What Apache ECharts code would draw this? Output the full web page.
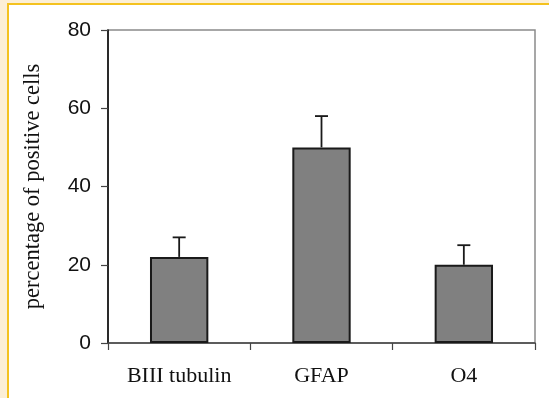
<!DOCTYPE html>
<html>
<head>
<meta charset="utf-8">
<script src="https://cdn.jsdelivr.net/npm/echarts@6/dist/echarts.min.js"></script>
<style>
html,body{margin:0;padding:0;background:#fff;}
#c{width:549px;height:398px;}
</style>
</head>
<body>
<div id="c"></div>
<script>
var categories = ['BIII tubulin', 'GFAP', 'O4'];
var values = [22, 50, 20];
var errors = [5, 8, 5];
var yTicks = [0, 20, 40, 60, 80];

var chart = echarts.init(document.getElementById('c'), null, {renderer: 'canvas'});
var errData = categories.map(function (c, i) { return [i, values[i], errors[i]]; });

chart.setOption({
  animation: false,
  backgroundColor: '#ffffff',
  graphic: [
    {type: 'rect', shape: {x: 0, y: 0, width: 7, height: 398}, style: {fill: '#fcefd5'}, z: 100},
    {type: 'rect', shape: {x: 0, y: 0, width: 549, height: 3}, style: {fill: '#fcefd5'}, z: 100},
    {type: 'rect', shape: {x: 7, y: 3, width: 2, height: 395}, style: {fill: '#f4c21f'}, z: 101},
    {type: 'rect', shape: {x: 7, y: 3, width: 542, height: 2}, style: {fill: '#f4c21f'}, z: 101}
  ],
  grid: {left: 108, top: 30, right: 14, bottom: 55, show: true, borderColor: '#8a8a8a', borderWidth: 1.5, backgroundColor: 'transparent'},
  xAxis: {
    type: 'category',
    data: categories,
    boundaryGap: true,
    axisLine: {lineStyle: {color: '#444', width: 1.5}},
    axisTick: {show: true, length: 7, lineStyle: {color: '#444', width: 1.2}},
    axisLabel: {fontFamily: 'Liberation Serif', fontSize: 22, color: '#111', margin: 22}
  },
  yAxis: {
    type: 'value',
    min: yTicks[0],
    max: yTicks[yTicks.length - 1],
    interval: 20,
    name: 'percentage of positive cells',
    nameLocation: 'middle',
    nameGap: 63,
    nameTextStyle: {fontFamily: 'Liberation Serif', fontSize: 22.5, color: '#111'},
    axisLine: {show: true, lineStyle: {color: '#000', width: 1.5}},
    axisTick: {show: true, length: 7, lineStyle: {color: '#444', width: 1.2}},
    axisLabel: {fontFamily: 'Liberation Sans', fontSize: 21, color: '#111', margin: 17},
    splitLine: {show: false}
  },
  series: [
    {
      type: 'bar',
      data: values,
      barWidth: '41%',
      itemStyle: {color: '#808080', borderColor: '#1a1a1a', borderWidth: 2},
      z: 2
    },
    {
      type: 'custom',
      data: errData,
      z: 3,
      renderItem: function (params, api) {
        var x = api.value(0), v = api.value(1), e = api.value(2);
        var p0 = api.coord([x, v]);
        var p1 = api.coord([x, v + e]);
        var hw = 6.5;
        var st = {stroke: '#1a1a1a', lineWidth: 1.8};
        return {
          type: 'group',
          children: [
            {type: 'line', shape: {x1: p0[0], y1: p0[1], x2: p1[0], y2: p1[1]}, style: st},
            {type: 'line', shape: {x1: p1[0] - hw, y1: p1[1], x2: p1[0] + hw, y2: p1[1]}, style: st}
          ]
        };
      }
    }
  ]
});
</script>
</body>
</html>
